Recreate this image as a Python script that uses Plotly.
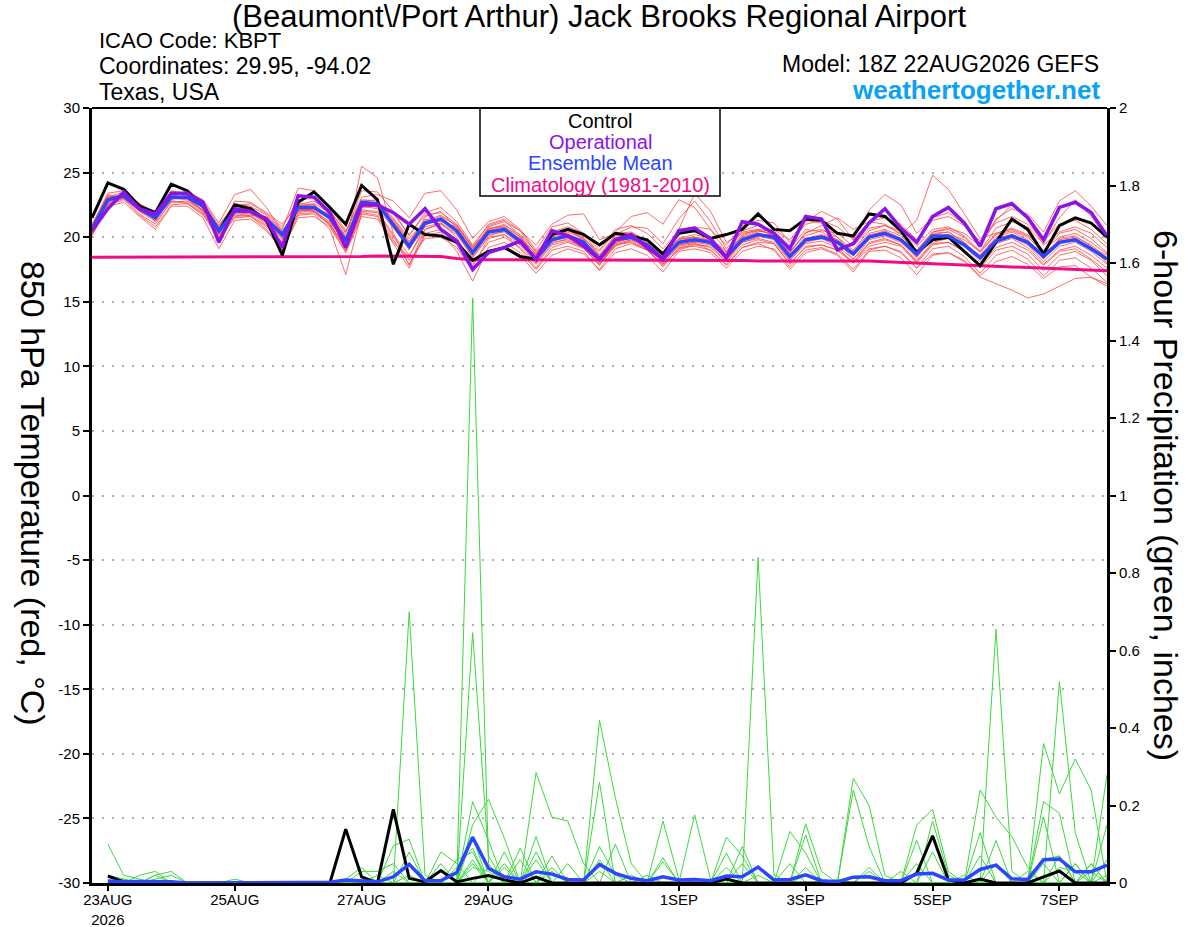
import pandas as pd
import plotly.graph_objects as go

# ---------------- data ----------------
start_time = "2026-08-22 18:00"
n_steps = 65  # 0..384 h every 6 h

temp_control = [21.5, 24.2, 23.7, 22.4, 21.9, 24.1, 23.6, 22.5, 20.5, 22.5,
                22.2, 21.3, 18.6, 22.7, 23.5, 22.3, 21.0, 24.0, 22.9, 17.9,
                21.0, 20.2, 20.1, 19.6, 18.2, 18.9, 19.2, 18.5, 18.3, 20.2,
                20.6, 20.2, 19.4, 20.3, 20.1, 19.8, 18.7, 20.3, 20.5, 19.9,
                20.2, 20.6, 21.8, 20.6, 20.5, 21.4, 21.3, 20.3, 20.1, 21.8,
                21.6, 20.5, 18.8, 19.8, 20.0, 18.9, 17.8, 19.6, 21.4, 20.6,
                18.7, 20.9, 21.5, 21.1, 20.0]

temp_operational = [20.5, 22.2, 23.5, 22.2, 21.8, 23.4, 23.4, 22.7, 19.6, 22.2,
                    22.0, 21.4, 19.2, 23.2, 23.1, 21.9, 19.2, 22.5, 22.5, 21.9,
                    21.0, 22.2, 20.6, 19.7, 17.5, 18.8, 19.2, 19.7, 18.3, 20.5,
                    20.1, 19.3, 18.3, 19.8, 20.2, 19.2, 18.3, 20.5, 20.7, 19.9,
                    18.4, 21.2, 21.0, 20.3, 19.1, 21.6, 21.4, 19.0, 19.5, 21.1,
                    22.2, 20.7, 19.6, 21.6, 22.3, 21.1, 19.3, 22.2, 22.6, 21.5,
                    19.8, 22.3, 22.7, 21.9, 20.1]

temp_mean = [20.6, 22.9, 23.2, 22.2, 21.5, 23.1, 23.1, 22.4, 20.5, 22.0,
             22.0, 21.4, 20.2, 22.3, 22.3, 21.5, 19.7, 22.7, 22.6, 21.0,
             19.3, 21.1, 21.4, 20.5, 18.8, 20.4, 20.6, 19.7, 18.3, 19.8,
             20.1, 19.6, 18.3, 19.8, 20.0, 19.4, 18.3, 19.6, 19.8, 19.6,
             18.5, 19.8, 20.2, 20.0, 18.5, 19.8, 20.0, 19.6, 18.7, 20.0,
             20.3, 19.8, 18.7, 20.1, 20.1, 19.4, 18.4, 19.7, 20.1, 19.6,
             18.5, 19.6, 19.8, 19.1, 18.3]

temp_climatology = [18.45, 18.45, 18.45, 18.45, 18.45, 18.45, 18.45, 18.45, 18.45, 18.45,
                    18.45, 18.45, 18.45, 18.45, 18.45, 18.45, 18.45, 18.5, 18.55, 18.55,
                    18.55, 18.55, 18.5, 18.35, 18.25, 18.25, 18.25, 18.25, 18.25, 18.25,
                    18.25, 18.2, 18.2, 18.2, 18.2, 18.2, 18.2, 18.2, 18.25, 18.25,
                    18.25, 18.2, 18.15, 18.15, 18.15, 18.15, 18.2, 18.2, 18.2, 18.15,
                    18.1, 18.05, 18.0, 17.9, 17.85, 17.8, 17.75, 17.7, 17.65, 17.6,
                    17.6, 17.55, 17.5, 17.45, 17.4]

temp_members = [
    [20.9, 23.4, 23.6, 22.5, 21.2, 23.5, 23.4, 22.8, 20.9, 22.4, 22.6, 21.8, 20.8, 22.9, 23.0, 22.1, 20.3, 23.6, 23.5, 22.0, 20.1, 21.9, 22.3, 21.2, 19.4, 20.9, 21.3, 20.1, 18.6, 20.3, 20.6, 19.8, 18.1, 19.4, 19.7, 19.0, 17.8, 19.1, 19.5, 19.0, 17.9, 19.2, 19.6, 19.5, 17.9, 19.3, 19.4, 19.0, 18.1, 19.3, 19.6, 19.3, 18.0, 19.4, 19.6, 18.9, 17.6, 19.0, 19.3, 18.7, 17.4, 18.6, 18.9, 18.2, 17.0],
    [20.3, 22.6, 23.0, 21.8, 21.0, 22.8, 22.7, 21.9, 19.9, 21.6, 21.7, 20.9, 19.6, 21.8, 21.9, 21.0, 19.1, 22.1, 22.0, 20.2, 18.6, 20.6, 21.0, 20.2, 18.5, 20.1, 20.5, 19.9, 18.7, 20.4, 20.8, 20.3, 19.0, 20.6, 20.9, 20.3, 19.1, 20.5, 20.8, 20.6, 19.4, 20.9, 21.3, 21.1, 19.6, 21.0, 21.3, 20.8, 19.8, 21.2, 21.5, 21.0, 19.8, 21.3, 21.6, 20.9, 19.7, 21.1, 21.6, 21.0, 19.8, 21.0, 21.3, 20.6, 19.5],
    [20.7, 23.1, 23.5, 22.6, 21.9, 23.3, 23.0, 22.1, 20.3, 22.3, 22.1, 21.1, 19.9, 22.6, 22.5, 21.3, 19.4, 25.5, 24.6, 20.3, 17.8, 20.6, 21.1, 20.0, 17.7, 19.9, 20.2, 19.1, 17.6, 19.2, 19.6, 19.1, 17.9, 19.3, 19.8, 19.5, 18.6, 19.9, 20.0, 19.7, 18.2, 19.6, 20.0, 20.3, 19.1, 20.6, 20.4, 19.7, 18.3, 19.5, 19.8, 19.4, 18.2, 19.6, 19.9, 19.5, 18.6, 20.0, 20.4, 19.8, 18.3, 19.9, 20.1, 19.3, 18.0],
    [20.5, 22.8, 23.3, 22.3, 21.6, 22.9, 23.2, 22.6, 20.7, 21.8, 21.7, 21.6, 20.5, 22.0, 22.2, 21.8, 20.0, 22.3, 22.4, 21.3, 19.6, 21.4, 21.2, 20.8, 19.2, 20.6, 20.9, 20.2, 18.9, 20.0, 20.3, 19.3, 18.0, 19.5, 20.2, 19.8, 18.8, 19.4, 19.6, 19.9, 18.9, 20.4, 20.6, 20.1, 18.8, 20.3, 20.9, 21.5, 20.6, 21.2, 21.0, 20.2, 21.3, 24.8, 23.7, 21.8, 19.9, 20.3, 20.7, 20.2, 19.0, 20.0, 20.3, 19.6, 18.7],
    [20.2, 22.5, 22.9, 21.7, 20.8, 22.5, 22.6, 21.8, 19.8, 21.5, 21.6, 20.6, 19.0, 21.7, 21.8, 20.6, 17.1, 21.9, 21.7, 19.8, 17.9, 20.1, 20.4, 18.9, 16.6, 19.2, 19.6, 18.8, 17.5, 19.0, 19.3, 18.9, 17.4, 18.8, 19.1, 18.6, 17.3, 18.9, 19.1, 18.8, 17.6, 18.9, 19.3, 19.1, 17.7, 19.0, 19.2, 18.7, 17.5, 19.0, 19.3, 18.9, 17.6, 19.1, 19.3, 18.5, 17.2, 18.6, 19.0, 18.3, 17.0, 18.2, 18.4, 17.6, 16.5],
    [20.8, 23.0, 23.1, 22.0, 21.7, 23.6, 23.3, 22.2, 20.4, 22.8, 22.7, 21.9, 21.0, 22.5, 22.8, 22.0, 20.4, 23.1, 23.3, 22.8, 21.5, 23.4, 23.6, 22.1, 19.9, 21.2, 21.6, 20.6, 19.0, 20.8, 21.1, 20.3, 18.6, 20.2, 20.8, 20.7, 19.5, 21.4, 22.8, 21.2, 19.1, 20.5, 20.9, 20.4, 18.9, 20.1, 20.5, 20.3, 19.3, 20.7, 20.9, 20.3, 19.0, 20.4, 20.6, 20.0, 18.8, 20.2, 20.5, 20.0, 18.9, 20.3, 20.6, 19.9, 18.8],
    [20.4, 22.7, 23.1, 22.1, 21.3, 23.0, 22.9, 22.0, 20.1, 21.9, 21.8, 21.2, 20.0, 22.1, 22.0, 21.2, 19.5, 22.4, 22.2, 20.7, 19.1, 20.8, 21.1, 20.3, 18.4, 20.0, 20.2, 19.4, 18.0, 19.5, 19.9, 19.4, 18.1, 19.6, 19.9, 19.2, 18.0, 19.3, 19.5, 19.2, 18.1, 19.4, 19.8, 19.5, 18.0, 19.2, 19.4, 19.0, 18.0, 19.1, 19.3, 18.8, 17.6, 18.7, 18.8, 18.1, 16.9, 16.4, 15.9, 15.3, 15.6, 16.2, 16.8, 16.9, 16.4],
    [21.0, 23.2, 23.0, 22.0, 21.4, 23.2, 23.0, 22.3, 20.6, 22.1, 22.2, 21.5, 20.3, 22.4, 22.5, 21.6, 19.9, 22.9, 22.8, 21.4, 19.7, 21.3, 21.7, 20.9, 19.1, 20.7, 20.8, 19.8, 18.5, 20.1, 20.4, 19.9, 18.6, 20.1, 20.3, 19.6, 18.5, 19.9, 20.2, 19.9, 18.8, 20.2, 20.6, 20.5, 19.3, 21.2, 22.0, 21.4, 19.8, 22.1, 23.3, 22.5, 20.3, 21.5, 21.9, 21.0, 19.4, 21.4, 22.2, 21.8, 20.4, 22.8, 23.6, 22.4, 20.9],
    [20.6, 22.9, 23.4, 22.4, 21.6, 23.1, 23.2, 22.5, 20.2, 21.7, 21.6, 20.8, 19.5, 21.9, 22.1, 21.1, 19.0, 22.0, 21.9, 20.0, 18.2, 19.9, 20.0, 19.2, 17.4, 18.8, 19.3, 18.6, 17.2, 18.6, 19.1, 18.7, 17.5, 19.1, 19.5, 19.0, 17.9, 19.0, 19.4, 19.3, 18.2, 19.7, 20.1, 19.8, 18.2, 19.6, 19.9, 19.3, 18.3, 19.8, 20.1, 19.6, 18.4, 19.9, 20.0, 19.3, 18.1, 19.5, 19.9, 19.2, 17.9, 19.0, 19.3, 18.6, 17.6],
    [20.5, 23.0, 23.3, 22.0, 21.2, 22.7, 22.8, 22.1, 20.6, 22.0, 21.9, 21.2, 20.1, 22.4, 22.6, 21.9, 20.1, 22.6, 22.3, 21.1, 19.4, 21.0, 21.3, 20.6, 19.0, 20.5, 20.8, 20.0, 18.7, 19.9, 20.2, 19.8, 18.9, 20.4, 21.6, 21.9, 21.0, 22.9, 22.3, 20.6, 18.9, 20.0, 20.4, 20.6, 19.8, 21.3, 21.1, 20.0, 18.6, 20.2, 20.4, 19.7, 18.5, 20.0, 20.2, 19.8, 18.9, 20.3, 20.6, 20.1, 18.7, 19.8, 20.0, 19.4, 18.4],
    [20.9, 23.3, 23.0, 22.3, 21.8, 23.3, 23.0, 22.0, 20.9, 22.6, 22.4, 21.7, 20.6, 23.8, 23.6, 22.4, 20.5, 22.8, 22.5, 20.8, 19.0, 21.6, 22.0, 20.7, 18.9, 20.8, 21.2, 20.5, 19.4, 21.0, 21.7, 21.8, 19.8, 20.3, 20.4, 19.7, 18.4, 19.7, 20.0, 19.5, 18.3, 19.9, 20.3, 19.9, 18.4, 19.7, 20.1, 19.8, 18.8, 20.1, 20.5, 19.9, 18.6, 20.2, 20.4, 19.6, 18.3, 19.6, 20.0, 19.4, 18.1, 19.3, 19.6, 18.9, 17.9],
    [20.3, 22.8, 23.2, 22.3, 21.5, 23.0, 23.3, 22.7, 20.0, 22.2, 22.3, 21.3, 19.8, 22.2, 22.0, 21.0, 19.3, 22.5, 22.6, 21.5, 19.9, 21.2, 21.4, 20.4, 18.6, 20.2, 20.4, 19.5, 18.2, 19.6, 19.8, 19.2, 17.8, 19.5, 19.8, 19.1, 17.7, 19.2, 19.3, 19.0, 17.8, 19.2, 19.5, 19.0, 17.5, 18.8, 19.1, 18.6, 17.3, 18.9, 19.0, 18.4, 17.1, 18.6, 18.8, 18.2, 17.0, 18.1, 18.5, 17.9, 16.8, 17.7, 17.8, 16.9, 16.2],
    [20.7, 22.6, 23.0, 22.4, 22.0, 23.4, 23.5, 22.9, 21.1, 23.3, 23.7, 22.3, 20.4, 22.0, 22.2, 21.7, 19.8, 22.5, 22.7, 21.8, 20.2, 21.7, 21.9, 21.0, 19.3, 20.5, 20.6, 19.6, 18.4, 19.9, 20.0, 19.5, 18.4, 20.0, 20.1, 19.5, 18.6, 19.8, 20.0, 19.8, 18.7, 20.1, 20.5, 20.3, 18.8, 20.4, 20.6, 20.0, 19.0, 20.5, 20.9, 20.5, 19.3, 20.6, 20.8, 20.1, 18.9, 20.7, 21.2, 20.8, 19.5, 21.5, 22.9, 21.6, 19.9],
    [20.1, 22.4, 22.7, 21.6, 20.6, 22.4, 22.4, 21.5, 19.1, 21.3, 21.4, 20.5, 19.0, 21.5, 21.6, 20.8, 18.8, 21.6, 21.4, 19.5, 17.6, 20.3, 20.6, 19.6, 17.9, 19.6, 20.0, 19.2, 17.9, 19.4, 19.7, 19.2, 17.9, 19.4, 19.6, 19.0, 17.9, 19.4, 19.6, 19.4, 18.4, 19.6, 19.9, 19.6, 18.2, 19.5, 19.7, 19.2, 18.0, 19.6, 19.9, 19.4, 18.1, 19.5, 19.6, 18.9, 17.8, 19.2, 19.6, 19.0, 17.8, 18.9, 19.1, 18.3, 17.3],
    [20.8, 23.1, 23.3, 22.1, 21.4, 23.0, 23.1, 22.5, 20.8, 22.2, 22.0, 21.5, 20.4, 22.1, 22.3, 21.7, 19.9, 22.8, 22.9, 21.2, 19.5, 21.2, 21.6, 20.9, 19.2, 21.0, 21.4, 20.5, 18.8, 20.1, 20.5, 20.0, 18.5, 19.9, 20.1, 19.7, 18.7, 20.6, 23.4, 22.0, 19.6, 20.3, 20.5, 20.2, 18.7, 19.9, 20.1, 19.7, 18.8, 20.0, 20.2, 19.9, 18.9, 20.3, 20.4, 19.6, 18.5, 19.9, 20.2, 19.7, 18.7, 19.7, 19.9, 19.2, 18.6],
    [20.4, 22.7, 23.4, 22.6, 21.5, 22.8, 22.6, 21.7, 20.3, 21.9, 21.9, 21.0, 19.6, 22.3, 22.0, 20.9, 18.9, 21.8, 21.6, 19.6, 18.5, 20.9, 21.5, 20.6, 18.7, 20.6, 21.0, 20.0, 18.4, 19.7, 20.0, 19.5, 18.2, 19.7, 19.9, 19.3, 18.1, 19.5, 19.7, 19.5, 18.4, 19.8, 20.1, 19.9, 18.6, 19.9, 20.2, 19.8, 18.9, 20.3, 20.6, 20.1, 18.9, 20.4, 20.7, 20.3, 19.3, 21.3, 22.5, 21.4, 19.4, 20.4, 20.8, 20.3, 19.2],
]

# precipitation: steps 1..64 (first 6-h total ends 23AUG 00Z)
precip_control = [0.018, 0.003, 0, 0, 0, 0, 0, 0, 0, 0, 0, 0, 0, 0, 0, 0.139,
                  0.016, 0, 0.19, 0.012, 0.003, 0.032, 0.003, 0.012, 0.019, 0.008, 0, 0.015, 0, 0, 0, 0,
                  0, 0, 0, 0, 0, 0, 0, 0.01, 0, 0, 0, 0, 0, 0, 0, 0,
                  0, 0, 0, 0.025, 0.122, 0.008, 0, 0.01, 0, 0, 0, 0.016, 0.031, 0, 0, 0]

precip_mean = [0.005, 0.003, 0.004, 0.004, 0.003, 0, 0, 0, 0.001, 0, 0, 0, 0, 0, 0.002, 0.008,
               0.006, 0.003, 0.016, 0.048, 0.006, 0.006, 0.027, 0.118, 0.038, 0.016, 0.010, 0.029, 0.023, 0.009, 0.008, 0.048,
               0.025, 0.012, 0.006, 0.016, 0.008, 0.009, 0.006, 0.018, 0.016, 0.041, 0.008, 0.009, 0.021, 0.006, 0.003, 0.015,
               0.016, 0.006, 0.006, 0.023, 0.025, 0.008, 0.008, 0.035, 0.046, 0.011, 0.009, 0.060, 0.062, 0.029, 0.029, 0.046]

precip_members = [
    [0.10, 0.02, 0.01, 0, 0, 0, 0, 0, 0, 0, 0, 0, 0, 0, 0, 0,
     0, 0, 0, 0, 0, 0, 0, 1.51, 0.05, 0, 0, 0.08, 0, 0, 0, 0,
     0, 0, 0, 0.065, 0, 0, 0, 0, 0, 0, 0, 0, 0.04, 0, 0, 0,
     0.04, 0, 0, 0, 0, 0, 0, 0.07, 0, 0, 0, 0.06, 0.07, 0, 0, 0.06],
    [0, 0, 0.02, 0.03, 0, 0, 0, 0, 0, 0, 0, 0, 0, 0, 0, 0,
     0, 0, 0, 0.70, 0.02, 0, 0, 0, 0, 0.05, 0, 0, 0, 0, 0, 0.06,
     0, 0, 0, 0, 0, 0, 0, 0.04, 0, 0, 0, 0.05, 0, 0, 0, 0,
     0, 0, 0, 0, 0.08, 0, 0, 0, 0.11, 0, 0, 0, 0, 0.05, 0, 0],
    [0, 0, 0, 0.02, 0.03, 0, 0, 0, 0, 0, 0, 0, 0, 0, 0, 0,
     0, 0, 0.096, 0.113, 0, 0, 0, 0.646, 0.07, 0, 0, 0, 0.07, 0, 0, 0,
     0.10, 0, 0, 0, 0, 0, 0, 0, 0.05, 0, 0, 0, 0, 0, 0, 0,
     0, 0, 0, 0.05, 0, 0, 0, 0, 0, 0, 0, 0, 0.52, 0.13, 0, 0],
    [0, 0.01, 0, 0.02, 0, 0, 0, 0, 0, 0, 0, 0, 0, 0, 0, 0,
     0, 0, 0, 0, 0, 0, 0, 0.15, 0.216, 0.116, 0, 0, 0, 0.05, 0, 0,
     0, 0, 0, 0, 0, 0, 0, 0, 0, 0.84, 0.02, 0, 0, 0, 0, 0,
     0, 0, 0, 0, 0, 0, 0, 0, 0, 0, 0, 0.17, 0, 0, 0.05, 0],
    [0, 0, 0, 0, 0, 0, 0, 0, 0, 0, 0, 0, 0, 0, 0, 0,
     0, 0, 0, 0, 0, 0.08, 0.05, 0, 0, 0, 0, 0.285, 0.17, 0.16, 0.05, 0,
     0, 0, 0, 0, 0, 0, 0, 0, 0, 0, 0, 0, 0, 0, 0, 0.27,
     0.20, 0.02, 0, 0, 0, 0, 0, 0, 0, 0, 0, 0, 0, 0, 0, 0.28],
    [0, 0, 0, 0, 0, 0, 0, 0, 0, 0, 0, 0, 0, 0, 0, 0,
     0.03, 0.03, 0.05, 0, 0, 0, 0, 0, 0, 0, 0, 0, 0, 0, 0, 0.42,
     0.22, 0.05, 0, 0.055, 0, 0, 0, 0, 0, 0, 0, 0, 0, 0, 0, 0,
     0, 0, 0, 0.15, 0.19, 0.03, 0, 0, 0, 0, 0, 0.36, 0.23, 0.32, 0.24, 0],
    [0, 0, 0, 0, 0, 0, 0, 0, 0.01, 0, 0, 0, 0, 0, 0, 0,
     0, 0, 0, 0, 0, 0, 0, 0.21, 0.11, 0, 0, 0, 0, 0, 0, 0.26,
     0, 0, 0, 0, 0, 0.176, 0.01, 0, 0, 0, 0, 0, 0.153, 0.03, 0, 0,
     0, 0, 0, 0, 0, 0, 0, 0.24, 0.17, 0.12, 0.04, 0, 0, 0, 0, 0],
    [0, 0, 0, 0, 0, 0, 0, 0, 0, 0, 0, 0, 0, 0, 0, 0.01,
     0.04, 0, 0, 0.08, 0, 0, 0, 0.12, 0, 0, 0.09, 0, 0, 0, 0, 0,
     0, 0, 0, 0.16, 0.01, 0, 0, 0, 0.094, 0, 0, 0, 0, 0, 0, 0.24,
     0.094, 0, 0, 0, 0, 0, 0, 0, 0.655, 0.03, 0, 0, 0, 0, 0, 0],
    [0, 0, 0, 0, 0, 0, 0, 0, 0, 0, 0, 0, 0, 0, 0, 0,
     0, 0, 0.03, 0, 0, 0, 0.06, 0.08, 0, 0.08, 0, 0.12, 0, 0, 0, 0,
     0, 0, 0, 0, 0, 0, 0, 0.118, 0.07, 0, 0, 0, 0.124, 0, 0, 0,
     0, 0, 0, 0, 0.16, 0.02, 0, 0, 0, 0, 0, 0.21, 0.18, 0, 0, 0.15],
    [0, 0, 0, 0, 0, 0, 0, 0, 0, 0, 0, 0, 0, 0, 0, 0,
     0, 0, 0, 0, 0, 0.03, 0, 0, 0.04, 0, 0.06, 0, 0, 0, 0, 0.094,
     0.02, 0, 0, 0, 0, 0, 0, 0, 0, 0, 0, 0.133, 0.077, 0, 0, 0,
     0, 0, 0, 0.11, 0, 0, 0, 0.13, 0, 0, 0, 0, 0.07, 0, 0.05, 0],
    [0.02, 0.01, 0, 0.01, 0.02, 0, 0, 0, 0, 0, 0, 0, 0, 0, 0, 0,
     0, 0, 0, 0, 0, 0.05, 0, 0.05, 0, 0, 0, 0, 0.04, 0, 0, 0,
     0, 0, 0.02, 0, 0, 0, 0, 0.077, 0, 0, 0, 0, 0, 0, 0, 0,
     0, 0, 0.03, 0, 0, 0, 0.02, 0, 0, 0, 0.03, 0, 0, 0.05, 0, 0],
    [0, 0, 0, 0, 0, 0, 0, 0, 0, 0, 0, 0, 0, 0, 0, 0,
     0, 0.02, 0, 0, 0, 0, 0.04, 0.09, 0, 0.04, 0, 0, 0, 0, 0, 0,
     0, 0.02, 0, 0, 0, 0, 0, 0, 0, 0.02, 0, 0, 0, 0, 0, 0,
     0.03, 0, 0, 0, 0, 0, 0, 0, 0.05, 0, 0, 0.05, 0, 0, 0.03, 0],
    [0, 0, 0, 0, 0, 0, 0, 0, 0, 0, 0, 0, 0, 0, 0, 0,
     0, 0, 0, 0, 0, 0, 0, 0.04, 0.03, 0, 0, 0.06, 0, 0, 0, 0.03,
     0, 0, 0, 0, 0, 0, 0, 0, 0, 0, 0, 0, 0, 0, 0.01, 0,
     0, 0, 0, 0, 0, 0, 0, 0, 0, 0, 0, 0, 0, 0, 0, 0.02],
    [0, 0, 0, 0, 0, 0, 0, 0, 0, 0, 0, 0, 0, 0, 0, 0,
     0, 0, 0, 0.02, 0, 0, 0, 0.06, 0, 0, 0, 0, 0.03, 0, 0, 0,
     0, 0, 0, 0, 0, 0, 0, 0, 0, 0, 0, 0, 0.02, 0, 0, 0,
     0, 0, 0, 0, 0, 0, 0, 0, 0, 0, 0, 0, 0.04, 0.03, 0, 0],
]

x_tick_dates = ["2026-08-23", "2026-08-25", "2026-08-27", "2026-08-29",
                "2026-09-01", "2026-09-03", "2026-09-05", "2026-09-07"]
x_tick_labels = ["23AUG<br>2026", "25AUG", "27AUG", "29AUG", "1SEP", "3SEP", "5SEP", "7SEP"]
temp_ticks = [30, 25, 20, 15, 10, 5, 0, -5, -10, -15, -20, -25, -30]
temp_tick_labels = ["30", "25", "20", "15", "10", "5", "0", "-5", "-10", "-15", "-20", "-25", "-30"]
precip_ticks = [2, 1.8, 1.6, 1.4, 1.2, 1, 0.8, 0.6, 0.4, 0.2, 0]
precip_tick_labels = ["2", "1.8", "1.6", "1.4", "1.2", "1", "0.8", "0.6", "0.4", "0.2", "0"]

# ---------------- figure ----------------
times = pd.date_range(start_time, periods=n_steps, freq="6h")
ptimes = times[1:]

FONT = "Liberation Sans, Arial, Helvetica, sans-serif"
RED = "rgba(255,70,70,0.8)"
GREEN = "#3cd83c"
BLACK = "#000000"
BLUE = "#2a46ff"
PURPLE = "#8a14e8"
PINK = "#f00c86"

L, R, T, B = 92, 1107, 108, 883
W, H = 1200, 927


def px(x):
    return (x - L) / (R - L)


def py(y):
    return (B - y) / (B - T)


fig = go.Figure()

for m in temp_members:
    fig.add_trace(go.Scatter(x=times, y=m, mode="lines",
                             line=dict(color=RED, width=1), hoverinfo="skip"))
fig.add_trace(go.Scatter(x=times, y=temp_climatology, mode="lines",
                         line=dict(color=PINK, width=3), hoverinfo="skip"))
fig.add_trace(go.Scatter(x=times, y=temp_control, mode="lines",
                         line=dict(color=BLACK, width=3), hoverinfo="skip"))
fig.add_trace(go.Scatter(x=times, y=temp_mean, mode="lines",
                         line=dict(color=BLUE, width=3.5), hoverinfo="skip"))
fig.add_trace(go.Scatter(x=times, y=temp_operational, mode="lines",
                         line=dict(color=PURPLE, width=3.5), hoverinfo="skip"))

for m in precip_members:
    fig.add_trace(go.Scatter(x=ptimes, y=m, mode="lines", yaxis="y2",
                             line=dict(color=GREEN, width=1), hoverinfo="skip"))
fig.add_trace(go.Scatter(x=ptimes, y=precip_control, mode="lines", yaxis="y2",
                         line=dict(color=BLACK, width=3), hoverinfo="skip"))
fig.add_trace(go.Scatter(x=ptimes, y=precip_mean, mode="lines", yaxis="y2",
                         line=dict(color=BLUE, width=3.5), hoverinfo="skip"))

annotations = [
    dict(text="(Beaumont\\/Port Arthur) Jack Brooks Regional Airport", x=px(599), y=py(16),
         xanchor="center", yanchor="middle", font=dict(size=31, color="black")),
    dict(text="ICAO Code: KBPT", x=px(97), y=py(40), xanchor="left", yanchor="middle",
         font=dict(size=22, color="black")),
    dict(text="Coordinates: 29.95, -94.02", x=px(97), y=py(66), xanchor="left", yanchor="middle",
         font=dict(size=23, color="black")),
    dict(text="Texas, USA", x=px(97), y=py(92), xanchor="left", yanchor="middle",
         font=dict(size=23, color="black")),
    dict(text="Model: 18Z 22AUG2026 GEFS", x=px(1101), y=py(64), xanchor="right", yanchor="middle",
         font=dict(size=23, color="black")),
    dict(text="<b>weathertogether.net</b>", x=px(1102), y=py(90), xanchor="right", yanchor="middle",
         font=dict(size=26, color="#0aa2f5")),
    dict(text="Control", x=px(600), y=py(121), xanchor="center", yanchor="middle",
         font=dict(size=20, color="black")),
    dict(text="Operational", x=px(600), y=py(142), xanchor="center", yanchor="middle",
         font=dict(size=20, color=PURPLE)),
    dict(text="Ensemble Mean", x=px(600), y=py(163), xanchor="center", yanchor="middle",
         font=dict(size=20, color=BLUE)),
    dict(text="Climatology (1981-2010)", x=px(600), y=py(185), xanchor="center", yanchor="middle",
         font=dict(size=20, color=PINK)),
    dict(text="850 hPa Temperature (red, \u00b0C)", x=px(33), y=py(493), textangle=90,
         xanchor="center", yanchor="middle", font=dict(size=34, color="black")),
    dict(text="6-hour Precipitation (green, inches)", x=px(1166), y=py(495), textangle=90,
         xanchor="center", yanchor="middle", font=dict(size=34, color="black")),
]
for a in annotations:
    a.update(xref="paper", yref="paper", showarrow=False)

shapes = [
    dict(type="rect", xref="paper", yref="paper", x0=px(480), x1=px(720), y0=py(196), y1=py(108),
         line=dict(color="black", width=1.5), fillcolor="white", layer="above"),
    dict(type="line", xref="paper", yref="paper", x0=0, x1=1, y0=1, y1=1,
         line=dict(color="black", width=2), layer="above"),
]

fig.update_layout(
    width=W, height=H,
    margin=dict(l=L, r=W - R, t=T, b=H - B, pad=0, autoexpand=False),
    paper_bgcolor="white", plot_bgcolor="white",
    showlegend=False, hovermode=False,
    font=dict(family=FONT, color="black"),
    annotations=annotations, shapes=shapes,
    xaxis=dict(
        type="date", range=[times[0], times[-1]],
        tickvals=x_tick_dates, ticktext=x_tick_labels,
        ticks="outside", ticklen=5, tickwidth=1.5, tickcolor="black",
        ticklabelstandoff=-4,
        showgrid=False, zeroline=False, automargin=False,
        showline=True, linecolor="black", linewidth=3,
        tickfont=dict(size=15, color="black"),
    ),
    yaxis=dict(
        range=[-30, 30], tickvals=temp_ticks, ticktext=temp_tick_labels,
        ticks="outside", ticklen=6, tickwidth=1.5, tickcolor="black",
        showgrid=True, gridcolor="#b0b0b0", griddash="2px,8px", gridwidth=1.5,
        zeroline=False, showline=True, linecolor="black", linewidth=3, automargin=False,
        tickfont=dict(size=15, color="black"),
    ),
    yaxis2=dict(
        range=[0, 2], overlaying="y", side="right",
        tickvals=precip_ticks, ticktext=precip_tick_labels,
        ticks="outside", ticklen=6, tickwidth=1.5, tickcolor="black",
        showgrid=False, zeroline=False, showline=True, linecolor="black", linewidth=3,
        automargin=False,
        tickfont=dict(size=15, color="black"),
    ),
)

fig.write_html("out.html",
               config={"displayModeBar": False},
               post_script="document.body.style.margin='0px';document.body.style.padding='0px';")
